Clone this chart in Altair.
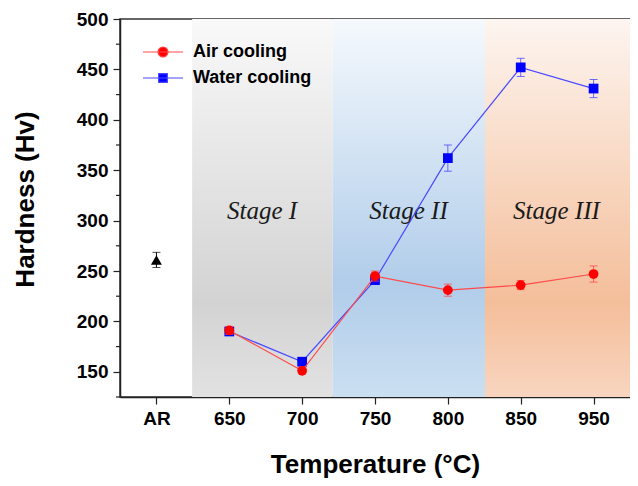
import altair as alt
import pandas as pd

# ---------------- data ----------------
categories = ["AR", "650", "700", "750", "800", "850", "950"]
temps = ["650", "700", "750", "800", "850", "950"]
air_hv = [191, 151, 245, 231, 236, 247]
air_err = [4, 2, 5, 6, 4.5, 8]
water_hv = [190, 160, 241, 362, 452, 431]
water_err = [3, 2, 4, 13, 9, 9]
ar_hv = [261]
ar_err = [7.5]
series_names = ["Air cooling", "Water cooling"]

stage_names = ["Stage I", "Stage II", "Stage III"]
stage_start = [0.49, 2.42, 4.51]
stage_end = [2.42, 4.51, 6.5]
stage_label_x = [1.45, 3.46, 5.49]
stage_label_y = [310, 310, 310]

y_major = [150, 200, 250, 300, 350, 400, 450, 500]
y_minor = [125, 175, 225, 275, 325, 375, 425, 475]
Y_MIN, Y_MAX = 125, 500
X_MIN, X_MAX = -0.5, 6.5

# ---------------- styles ----------------
RED, BLUE = "#ff0000", "#0000ff"
RED_LINE, BLUE_LINE = "#ff4a4a", "#4a4aff"
stage_stops = [
    [(0, "#f9f9f9"), (0.75, "#d3d3d3"), (1, "#e2e2e2")],
    [(0, "#f5f9fd"), (0.7, "#b1cdea"), (1, "#cbdff1")],
    [(0, "#fdf5f0"), (0.75, "#f4be9a"), (1, "#f8d5bf")],
]

def rows(vals, errs, series, cats):
    return pd.DataFrame({
        "series": series,
        "idx": [categories.index(c) for c in cats],
        "hv": vals,
        "lo": [v - e for v, e in zip(vals, errs)],
        "hi": [v + e for v, e in zip(vals, errs)],
    })

df_air = rows(air_hv, air_err, "Air cooling", temps)
df_water = rows(water_hv, water_err, "Water cooling", temps)
df_ar = rows(ar_hv, ar_err, "AR", ["AR"])
df_stage = pd.DataFrame({"name": stage_names, "x0": stage_start, "x1": stage_end,
                         "lx": stage_label_x, "ly": stage_label_y})
df_minor = pd.DataFrame({"v": y_minor})

xscale = alt.Scale(domain=[X_MIN, X_MAX], nice=False, zero=False)
yscale = alt.Scale(domain=[Y_MIN, Y_MAX], nice=False, zero=False)
label_expr = "[" + ",".join("'%s'" % c for c in categories) + "][datum.value]"

xaxis = alt.Axis(values=list(range(len(categories))), labelExpr=label_expr,
                 title="Temperature (°C)", grid=False, tickSize=7, labelPadding=5,
                 titleX=255, titleY=75, titleAlign="center", titleBaseline="alphabetic")
yaxis = alt.Axis(values=y_major, title="Hardness (Hv)", grid=False, tickSize=7,
                 labelPadding=5, titleX=-87, titleY=180, titleAlign="center",
                 titleBaseline="alphabetic", titleAngle=-90)

def X(f):
    return alt.X(f, type="quantitative", scale=xscale, axis=xaxis)

def Y(f):
    return alt.Y(f, type="quantitative", scale=yscale, axis=yaxis)

layers = []
# gradient stage backgrounds
for i in range(3):
    grad = {"gradient": "linear", "x1": 0, "y1": 0, "x2": 0, "y2": 1,
            "stops": [{"offset": o, "color": c} for o, c in stage_stops[i]]}
    layers.append(
        alt.Chart(df_stage.iloc[[i]]).mark_rect(fill=grad).encode(
            x=X("x0"), x2="x1", y=alt.datum(Y_MIN, type="quantitative", scale=yscale, axis=yaxis),
            y2=alt.datum(Y_MAX)))

layers.append(alt.Chart(df_stage).mark_text(
    font="Liberation Serif", fontStyle="italic", fontSize=25, color="#1a1a1a",
    baseline="middle").encode(x=X("lx"), y=Y("ly"), text="name:N"))

def series_layers(df, line_c, pt_c, shape):
    base = alt.Chart(df)
    return [
        base.mark_line(color=line_c, strokeWidth=1.2).encode(x=X("idx"), y=Y("hv")),
        base.mark_rule(color=line_c, strokeWidth=1, opacity=0.8).encode(x=X("idx"), y=Y("lo"), y2="hi"),
        base.mark_tick(color=line_c, size=8, thickness=1, orient="horizontal", opacity=0.8).encode(x=X("idx"), y=Y("lo")),
        base.mark_tick(color=line_c, size=8, thickness=1, orient="horizontal", opacity=0.8).encode(x=X("idx"), y=Y("hi")),
        base.mark_point(filled=True, opacity=1, color=pt_c, shape=shape, size=95).encode(x=X("idx"), y=Y("hv")),
    ]

layers += series_layers(df_water, BLUE_LINE, BLUE, "square")
layers += series_layers(df_air, RED_LINE, RED, "circle")

ar = alt.Chart(df_ar)
layers += [
    ar.mark_rule(color="#000", strokeWidth=1).encode(x=X("idx"), y=Y("lo"), y2="hi"),
    ar.mark_tick(color="#000", size=8, thickness=1, orient="horizontal").encode(x=X("idx"), y=Y("lo")),
    ar.mark_tick(color="#000", size=8, thickness=1, orient="horizontal").encode(x=X("idx"), y=Y("hi")),
    ar.mark_point(filled=True, opacity=1, color="#000", shape="triangle-up", size=120).encode(x=X("idx"), y=Y("hv")),
]

# minor ticks of the y axis
layers.append(alt.Chart(df_minor).mark_rule(color="#222", strokeWidth=1.2, clip=False).encode(
    x=alt.value(-4), x2=alt.value(0), y=Y("v")))

# legend (symbol paths span [-2, 2] so the column stays narrow)
path_circle = "M-2,0H2M-0.5,0A0.5,0.5,0,1,0,0.5,0A0.5,0.5,0,1,0,-0.5,0Z"
path_square = "M-2,0H2M-0.44,-0.44H0.44V0.44H-0.44Z"
leg = alt.Legend(title=None, orient="none", legendX=32, legendY=22, symbolSize=400,
                 labelFont="Liberation Sans", labelFontWeight="bold", labelFontSize=18,
                 labelColor="#000", labelOffset=19, rowPadding=6, padding=0,
                 symbolStrokeWidth=1.2, symbolOpacity=1)
df_leg = pd.concat([df_air, df_water])
layers.append(alt.Chart(df_leg).transform_filter("false").mark_point(filled=True).encode(
    x=X("idx"), y=Y("hv"),
    fill=alt.Fill("series:N", scale=alt.Scale(domain=series_names, range=[RED, BLUE]), legend=leg),
    stroke=alt.Stroke("series:N", scale=alt.Scale(domain=series_names, range=[RED_LINE, BLUE_LINE]), legend=leg),
    shape=alt.Shape("series:N", scale=alt.Scale(domain=series_names, range=[path_circle, path_square]), legend=leg),
))

chart = alt.layer(*layers).properties(
    width=510, height=378,
    autosize=alt.AutoSizeParams(type="none"),
    padding={"left": 112, "top": 11, "right": 0, "bottom": 81},
    background="white",
).configure_view(stroke="#333", strokeWidth=1.5).configure_axis(
    labelFont="Liberation Sans", labelFontWeight="bold", labelFontSize=19, labelColor="#000",
    titleFont="Liberation Sans", titleFontWeight="bold", titleFontSize=26, titleColor="#000",
    domainColor="#222", domainWidth=1.5, tickColor="#222", tickWidth=1.2,
)

chart.save("out.html", embed_options={"renderer": "svg", "actions": False})
